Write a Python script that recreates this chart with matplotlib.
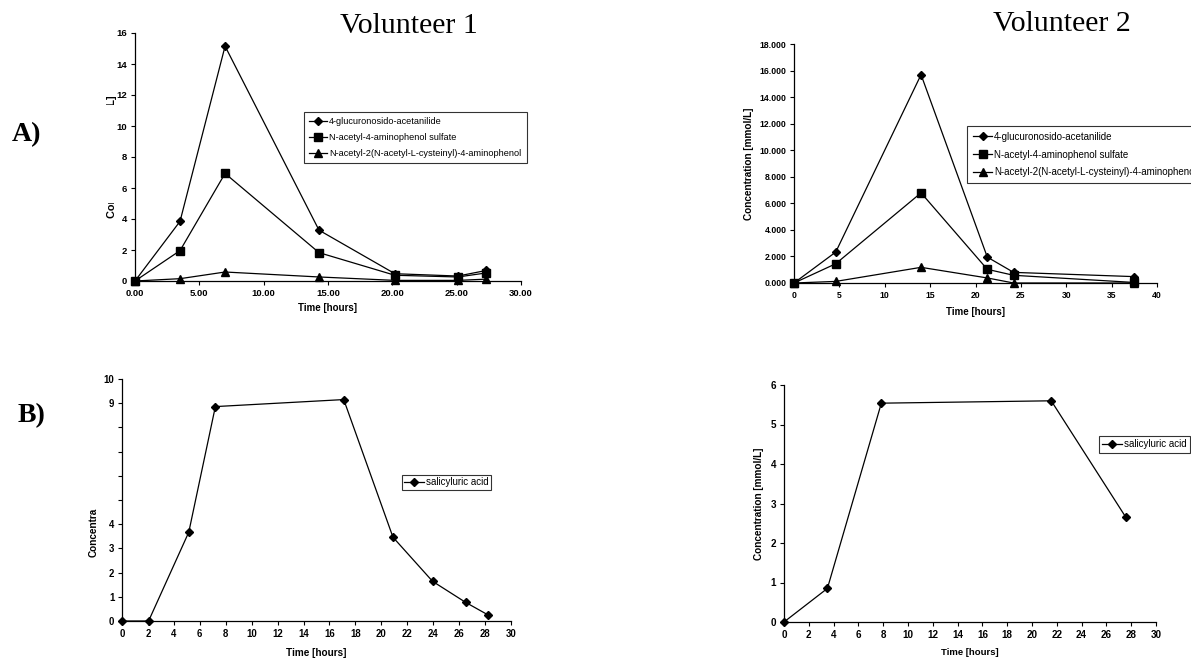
import matplotlib
matplotlib.use("Agg")
import matplotlib.pyplot as plt
from matplotlib.patches import Rectangle

# ---------------- data ----------------
v1_time = [0.0, 3.5, 7.0, 14.3, 20.2, 25.1, 27.3]
v1_glucuronide = [0.0, 3.85, 15.15, 3.28, 0.47, 0.32, 0.68]
v1_sulfate = [0.0, 1.96, 6.94, 1.83, 0.37, 0.26, 0.52]
v1_cysteinyl = [0.0, 0.15, 0.58, 0.26, 0.04, 0.04, 0.12]

v2_time = [0.0, 4.6, 14.0, 21.3, 24.2, 37.5]
v2_glucuronide = [0.0, 2.33, 15.69, 1.95, 0.80, 0.48]
v2_sulfate = [0.0, 1.45, 6.79, 1.03, 0.58, 0.04]
v2_cysteinyl = [0.0, 0.12, 1.18, 0.38, 0.0, 0.0]

v1_sal_time = [0.0, 2.05, 5.15, 7.2, 17.1, 20.9, 23.95, 26.5, 28.2]
v1_sal = [0.0, 0.0, 3.67, 8.86, 9.15, 3.46, 1.64, 0.77, 0.26]

v2_sal_time = [0.0, 3.5, 7.85, 21.55, 27.55]
v2_sal = [0.0, 0.85, 5.54, 5.60, 2.66]

series_names = ["4-glucuronosido-acetanilide",
                "N-acetyl-4-aminophenol sulfate",
                "N-acetyl-2(N-acetyl-L-cysteinyl)-4-aminophenol"]
sal_name = "salicyluric acid"

# ---------------- figure ----------------
W, H = 1191, 660
fig = plt.figure(figsize=(W / 100, H / 100), dpi=100)
plt.rcParams['font.family'] = ['Liberation Sans', 'DejaVu Sans']


def px_axes(left, right, top, bottom):
    return fig.add_axes([left / W, 1 - bottom / H, (right - left) / W, (bottom - top) / H])


def style(ax, fs):
    for s in ("top", "right"):
        ax.spines[s].set_visible(False)
    for s in ("left", "bottom"):
        ax.spines[s].set_linewidth(0.9)
    ax.tick_params(direction="out", length=3, width=0.8, labelsize=fs, pad=2.5)
    for lab in ax.get_xticklabels() + ax.get_yticklabels():
        lab.set_fontweight("bold")


def make_legend(ax, x_px, y_px, left, bottom, width, height, fs, spacing, pad):
    leg = ax.legend(loc="upper left",
                    bbox_to_anchor=((x_px - left) / width, (bottom - y_px) / height),
                    fontsize=fs, frameon=True, fancybox=False, edgecolor="black",
                    handlelength=2.0, borderpad=pad, labelspacing=spacing,
                    handletextpad=0.2, borderaxespad=0)
    leg.get_frame().set_linewidth(0.8)
    return leg


line_kw = dict(color="black", lw=0.9, clip_on=False)
mk = [dict(marker="D", ms=4.3), dict(marker="s", ms=5.2), dict(marker="^", ms=5.2)]

# ---- A) Volunteer 1 ----
ax1 = px_axes(135, 521, 33, 281)
for ys, name, m in zip([v1_glucuronide, v1_sulfate, v1_cysteinyl], series_names, mk):
    ax1.plot(v1_time, ys, label=name, **line_kw, **m)
ax1.set_xlim(0, 30)
ax1.set_ylim(0, 16)
ax1.set_xticks(range(0, 31, 5))
ax1.set_xticklabels([f"{v:.2f}" for v in range(0, 31, 5)])
ax1.set_yticks(range(0, 17, 2))
style(ax1, 6.8)
ax1.set_xlabel("Time [hours]", fontsize=7, fontweight="bold", labelpad=4)
ax1.set_ylabel("Concentration [mmol/L]", fontsize=7.8, fontweight="bold", labelpad=0)
make_legend(ax1, 304, 112, 135, 281, 386, 248, 6.6, 0.75, 0.55)

# ---- A) Volunteer 2 ----
ax2 = px_axes(794, 1157, 44, 283)
for ys, name, m in zip([v2_glucuronide, v2_sulfate, v2_cysteinyl], series_names, mk):
    ax2.plot(v2_time, ys, label=name, **line_kw, **m)
ax2.set_xlim(0, 40)
ax2.set_ylim(0, 18)
ax2.set_xticks(range(0, 41, 5))
ax2.set_yticks(range(0, 19, 2))
ax2.set_yticklabels([f"{v:.3f}" for v in range(0, 19, 2)])
style(ax2, 6.2)
ax2.set_xlabel("Time [hours]", fontsize=7, fontweight="bold", labelpad=5)
ax2.set_ylabel("Concentration [mmol/L]", fontsize=7.2, fontweight="bold", labelpad=4)
make_legend(ax2, 967, 126, 794, 283, 363, 239, 7.0, 0.8, 0.6)

# ---- B) Volunteer 1 ----
ax3 = px_axes(122, 511, 379, 621)
ax3.plot(v1_sal_time, v1_sal, label=sal_name, **line_kw, **mk[0])
ax3.set_xlim(0, 30)
ax3.set_ylim(0, 10)
ax3.set_xticks(range(0, 31, 2))
ax3.set_yticks(range(0, 11))
ax3.set_yticklabels([str(v) if v in (0, 1, 2, 3, 4, 9, 10) else "" for v in range(0, 11)])
style(ax3, 6.9)
ax3.set_xlabel("Time [hours]", fontsize=7.2, fontweight="bold", labelpad=7)
make_legend(ax3, 402, 475, 122, 621, 389, 242, 7.0, 0.5, 0.25)
fig.text(94 / W, 1 - 557 / H, "Concentra", rotation=90, fontsize=7.2, fontweight="bold",
         ha="center", va="bottom")

# ---- B) Volunteer 2 ----
ax4 = px_axes(784, 1156, 385, 622)
ax4.plot(v2_sal_time, v2_sal, label=sal_name, **line_kw, **mk[0])
ax4.set_xlim(0, 30)
ax4.set_ylim(0, 6)
ax4.set_xticks(range(0, 31, 2))
ax4.set_yticks(range(0, 7))
style(ax4, 7.1)
ax4.set_xlabel("Time [hours]", fontsize=6.8, fontweight="bold", labelpad=6)
ax4.set_ylabel("Concentration [mmol/L]", fontsize=7.2, fontweight="bold", labelpad=5)
make_legend(ax4, 1099, 436, 784, 622, 372, 237, 7.0, 0.5, 0.35)

# ---- titles / panel letters ----
fig.text(409 / W, 1 - 26 / H, "Volunteer 1", fontsize=21.5, family="Liberation Serif",
         ha="center", va="center")
fig.text(1062 / W, 1 - 24 / H, "Volunteer 2", fontsize=21.5, family="Liberation Serif",
         ha="center", va="center")
fig.text(26 / W, 1 - 135 / H, "A)", fontsize=20, family="Liberation Serif",
         fontweight="bold", ha="center", va="center")
fig.text(32 / W, 1 - 416 / H, "B)", fontsize=20, family="Liberation Serif",
         fontweight="bold", ha="center", va="center")

# obscured middle part of the top-left y-label
fig.patches.append(Rectangle((101 / W, 1 - 203 / H), 16 / W, (203 - 105) / H,
                             transform=fig.transFigure, facecolor="white",
                             edgecolor="none", zorder=10))

fig.savefig("out.png", dpi=100)
